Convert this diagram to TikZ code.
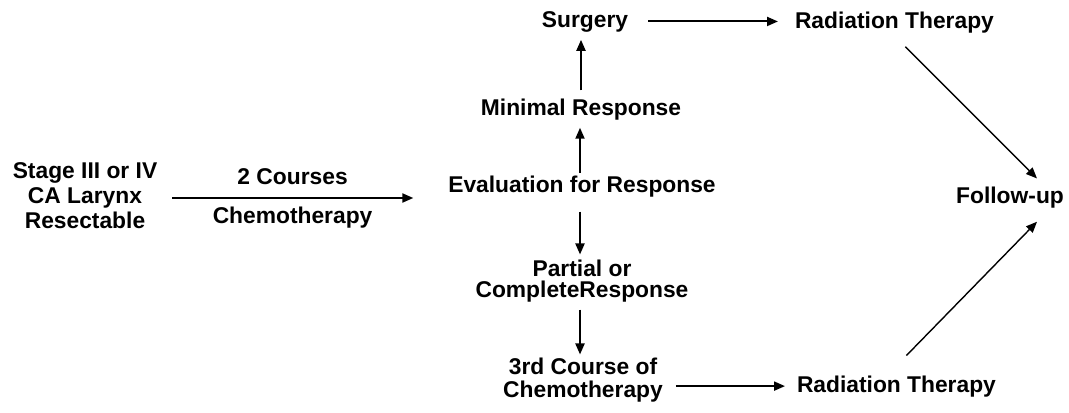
\documentclass[tikz,border=0pt]{standalone}
\usepackage{fontspec}
\setmainfont{Liberation Sans}
\usetikzlibrary{arrows.meta,positioning}
\begin{document}
\begin{tikzpicture}[x=0.5pt, y=-0.5pt, main/.style = {inner sep=0pt, outer sep=0pt, align=center, font=\fontsize{11.4}{11.5}\selectfont\bfseries}, arr/.style = {line width=1pt, -{Triangle[length=5.5pt,width=4.5pt]}}, diag/.style = {line width=0.7pt, -{Triangle[length=5.5pt,width=4.5pt]}}]
\useasboundingbox (0,0) rectangle (1069,412);
\node[main, anchor=base] (1) at (85,228) {Stage III or IV\\[1pt]CA Larynx\\[1pt]Resectable};
\node[main, anchor=base] (2) at (582,192) {Evaluation for Response};
\node[main, anchor=base] (3) at (581,115) {Minimal Response};
\node[main, anchor=base] (4) at (585,27) {Surgery};
\node[main, anchor=base west] (5) at (795,28) {Radiation Therapy};
\node[main, anchor=base] (6) at (582,297) {Partial or\\[-1pt]CompleteResponse};
\node[main, anchor=base] (7) at (583,397) {3rd Course of\\Chemotherapy};
\node[main, anchor=base west] (8) at (797,392) {Radiation Therapy};
\node[main, anchor=base] (9) at (1010,203) {Follow-up};
\draw[arr, shorten <=7.5pt, shorten >=17.5pt] ([yshift=-3pt]2.base west -| 1.east) -- ([yshift=-3pt]2.base west)
  node[main, pos=0.465, above=6.5pt] (10) {2 Courses}
  node[main, pos=0.465, below=4.5pt] (11) {Chemotherapy};
\draw[arr, shorten <=1.2pt, shorten >=4pt] ([xshift=-1pt]2.north) -- ([xshift=-1pt]2.north |- 3.south);
\draw[arr, shorten <=4pt, shorten >=4pt] (3.north) -- (3.north |- 4.south);
\draw[arr, shorten <=7.5pt, shorten >=2.5pt] ([xshift=-1pt]2.south) -- ([xshift=-1pt]2.south |- 6.north);
\draw[arr, shorten <=4pt, shorten >=1.5pt] ([xshift=-1pt]6.south) -- ([xshift=-1pt]6.south |- 7.north);
\draw[arr, shorten <=10pt, shorten >=8.5pt] (4.east) -- (4.east -| 5.west);
\draw[arr, shorten <=6.5pt, shorten >=6pt] (8.west -| 7.east) -- (8.west);
\draw[diag] ([xshift=5.5pt, yshift=-7pt]5.south) -- ([xshift=13.5pt, yshift=4pt]9.north);
\draw[diag] ([xshift=5pt, yshift=10pt]8.north) -- ([xshift=13.5pt, yshift=-7pt]9.south);
\end{tikzpicture}
\end{document}
